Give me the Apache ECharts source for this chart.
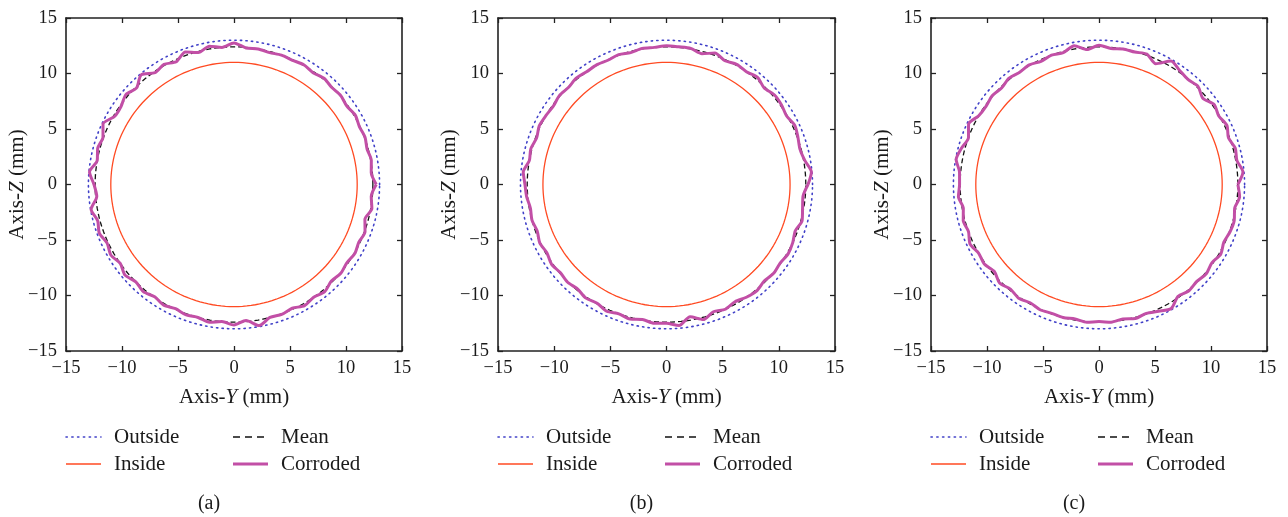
<!DOCTYPE html>
<html>
<head>
<meta charset="utf-8">
<script src="https://cdn.jsdelivr.net/npm/echarts@6/dist/echarts.min.js"></script>
<style>
html,body{margin:0;padding:0;background:#fff;}
#chart{width:1288px;height:517px;}
</style>
</head>
<body>
<div id="chart"></div>
<script>
// ---- data ----
const panelLabels = ['(a)', '(b)', '(c)'];
const axisTicks = [-15, -10, -5, 0, 5, 10, 15];
const legendNames = ['Outside', 'Inside', 'Mean', 'Corroded'];
const outsideRadius = 13.0;
const insideRadius = 11.0;
const meanRadius = 12.4;
const corrodedStepDeg = 5; // angle step of the corroded radius readings, from +Y axis, counter-clockwise
const corrodedA = [12.7,12.3,12.45,12.3,12.45,12.35,12.5,12.3,12.45,12.35,12.5,12.3,12.45,12.35,12.4,12.3,12.4,12.35,
  12.75,12.4,12.65,12.3,12.7,12.2,12.5,12.3,12.9,12.3,12.6,12.3,12.3,12.9,12.45,12.6,12.4,12.95,
  12.5,12.3,12.95,12.6,12.8,12.5,12.7,12.4,12.7,12.4,12.6,12.35,12.55,12.35,12.5,12.4,12.6,12.4,
  12.65,12.3,12.9,12.4,12.45,12.3,12.6,12.4,12.6,12.3,12.45,12.3,12.45,12.3,12.45,12.1,12.5,12.3];
const corrodedB = [12.6,12.95,12.5,12.3,12.45,12.6,12.35,12.5,12.55,12.3,12.6,12.4,12.5,12.3,12.6,12.2,12.45,12.45,
  12.5,12.4,12.45,12.3,12.45,12.35,12.45,12.4,12.5,12.35,12.45,12.3,12.4,12.5,12.3,12.5,12.4,12.8,
  12.6,12.5,12.3,12.4,12.25,12.45,12.3,12.5,12.35,12.45,12.3,12.5,12.35,12.6,12.4,12.55,12.35,12.55,
  12.5,12.75,12.1,12.6,12.2,12.4,12.2,12.4,12.5,12.3,12.45,12.35,12.5,12.4,12.2,12.5,12.3,12.2];
const corrodedC = [12.4,12.9,12.5,12.6,12.3,12.6,12.35,12.55,12.1,12.5,12.35,12.55,12.85,12.0,12.5,12.35,12.4,12.3,
  12.55,12.2,12.7,12.3,12.4,12.25,12.45,12.35,12.5,12.3,12.45,12.3,12.4,12.85,12.4,12.7,12.95,12.5,
  12.45,12.6,12.3,12.55,12.4,12.7,12.4,12.5,12.2,12.55,12.3,12.5,12.3,12.45,12.35,12.4,12.3,12.45,
  12.35,12.45,12.3,12.5,12.35,12.6,12.9,12.3,12.5,12.35,12.5,12.3,12.55,12.3,12.45,12.5,12.3,12.6];
const corrodedSets = [corrodedA, corrodedB, corrodedC];

// ---- styles / layout ----
const FONT = '"Liberation Serif", "Times New Roman", serif';
const colors = {outside:'#4040c8', inside:'#ff4a22', mean:'#111111', corroded:'#c24fa6'};
const grids = [
  {left:66, top:18, width:336, height:333},
  {left:498, top:18, width:337, height:333},
  {left:931, top:18, width:336, height:333}
];

function polarToXY(r, deg){
  const t = deg * Math.PI / 180;
  return [r * Math.cos(t), r * Math.sin(t)];
}
function circle(r){
  const pts = [];
  for (let d = 0; d <= 360; d += 2) pts.push(polarToXY(r, d));
  return pts;
}
function corrodedPts(arr){
  const pts = arr.map((r, i) => polarToXY(r, i * corrodedStepDeg));
  pts.push(pts[0]);
  return pts;
}
const minusFmt = v => String(v).replace('-', '\u2212');

const xAxes = [], yAxes = [], series = [], graphics = [];
grids.forEach((g, i) => {
  const base = {
    type:'value', min:-15, max:15, interval:5, gridIndex:i,
    axisLine:{show:true, onZero:false, lineStyle:{color:'#222', width:1.6}},
    axisTick:{show:true, inside:true, length:5, lineStyle:{color:'#222', width:1.3}},
    splitLine:{show:false}
  };
  const rich = {n:{fontFamily:FONT, fontSize:21, color:'#1a1a1a'}, i:{fontFamily:FONT, fontSize:21, fontStyle:'italic', color:'#1a1a1a'}};
  xAxes.push(Object.assign({}, base, {
    position:'bottom',
    name:'{n|Axis-}{i|Y}{n| (mm)}', nameLocation:'middle', nameGap:36,
    nameTextStyle:{rich:rich},
    axisLabel:{fontFamily:FONT, fontSize:18.5, color:'#1a1a1a', margin:8, formatter:minusFmt}
  }));
  xAxes.push(Object.assign({}, base, {position:'top', axisLabel:{show:false}}));
  yAxes.push(Object.assign({}, base, {
    position:'left',
    name:'{n|Axis-}{i|Z}{n| (mm)}', nameLocation:'middle', nameGap:38, nameMoveOverlap:false,
    nameTextStyle:{rich:rich},
    axisLabel:{fontFamily:FONT, fontSize:18.5, color:'#1a1a1a', margin:9, formatter:minusFmt}
  }));
  yAxes.push(Object.assign({}, base, {position:'right', axisLabel:{show:false}}));

  const xi = i * 2, yi = i * 2;
  series.push({name:'Outside', type:'line', xAxisIndex:xi, yAxisIndex:yi, data:circle(outsideRadius), showSymbol:false, silent:true,
    lineStyle:{color:colors.outside, width:1.6, type:[1.3, 4.2], cap:'round'}});
  series.push({name:'Inside', type:'line', xAxisIndex:xi, yAxisIndex:yi, data:circle(insideRadius), showSymbol:false, silent:true,
    lineStyle:{color:colors.inside, width:1.3}});
  series.push({name:'Mean', type:'line', xAxisIndex:xi, yAxisIndex:yi, data:circle(meanRadius), showSymbol:false, silent:true,
    lineStyle:{color:colors.mean, width:1.3, type:[5, 3]}});
  series.push({name:'Corroded', type:'line', xAxisIndex:xi, yAxisIndex:yi, data:corrodedPts(corrodedSets[i]), showSymbol:false, silent:true,
    smooth:0.25, lineStyle:{color:colors.corroded, width:3}});

  // legend (drawn as graphic)
  const L = g.left;
  const rows = [437, 464];
  const items = [
    {x:L, y:rows[0], name:legendNames[0], style:{stroke:colors.outside, lineWidth:1.6, lineDash:[1.3, 4.5], lineCap:'round'}},
    {x:L, y:rows[1], name:legendNames[1], style:{stroke:colors.inside, lineWidth:1.3}},
    {x:L + 167, y:rows[0], name:legendNames[2], style:{stroke:colors.mean, lineWidth:1.3, lineDash:[7, 5]}},
    {x:L + 167, y:rows[1], name:legendNames[3], style:{stroke:colors.corroded, lineWidth:3}}
  ];
  items.forEach(it => {
    graphics.push({type:'line', shape:{x1:it.x, y1:it.y, x2:it.x + 35, y2:it.y}, style:it.style, silent:true});
    graphics.push({type:'text', x:it.x + 48, y:it.y, style:{text:it.name, font:'21px ' + FONT, fill:'#1a1a1a', textVerticalAlign:'middle'}, silent:true});
  });
  graphics.push({type:'text', x:L + g.width / 2 - 25, y:504, style:{text:panelLabels[i], font:'20px ' + FONT, fill:'#1a1a1a', textAlign:'center', textVerticalAlign:'middle'}, silent:true});
});

const chart = echarts.init(document.getElementById('chart'), null, {renderer:'canvas'});
chart.setOption({
  animation:false,
  backgroundColor:'#ffffff',
  grid:grids,
  xAxis:xAxes,
  yAxis:yAxes,
  series:series,
  graphic:graphics
});
</script>
</body>
</html>
